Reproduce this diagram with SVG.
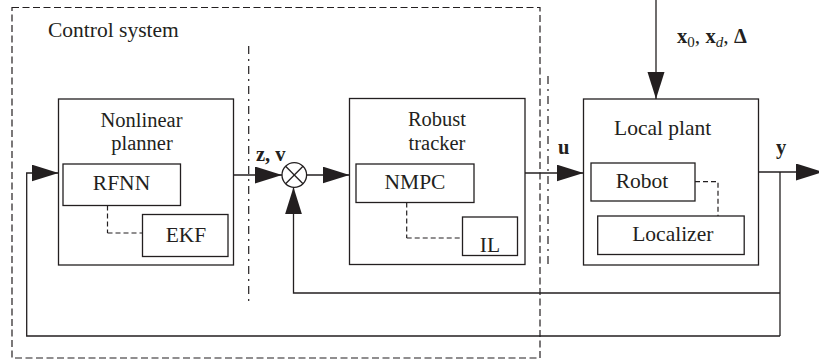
<svg xmlns="http://www.w3.org/2000/svg" width="819" height="362" viewBox="0 0 819 362">
<style>
  .box{fill:none;stroke:#231f20;stroke-width:1.3}
  .frame{fill:none;stroke:#231f20;stroke-width:1.2;stroke-dasharray:7 3.5}
  .dd{fill:none;stroke:#231f20;stroke-width:1.2;stroke-dasharray:8 5 2 5}
  .ds{fill:none;stroke:#231f20;stroke-width:1.2;stroke-dasharray:5 3}
  .ln{fill:none;stroke:#231f20;stroke-width:1.3}
  .arr{marker-end:url(#ah)}
  text{font-family:"Liberation Serif","Times New Roman",serif;font-size:21.5px;fill:#231f20}
  .c{text-anchor:middle}
  .two{font-size:20.5px}
  .b{font-weight:bold;font-size:20.5px}
  .sub{font-size:15px;font-weight:normal}
</style>
<defs>
  <marker id="ah" markerUnits="userSpaceOnUse" markerWidth="28" markerHeight="18" refX="27" refY="8.5" orient="auto">
    <path d="M0,0 L27,8.5 L0,17 z" fill="#231f20"/>
  </marker>
</defs>

<g id="control-system">
  <rect class="frame" x="12" y="7.5" width="528" height="350.5"/>
  <text x="48" y="37">Control system</text>
  <line class="dd" x1="248.7" y1="46" x2="248.7" y2="303"/>
  <line class="dd" x1="548" y1="76" x2="548" y2="267"/>
</g>

<g id="nonlinear-planner">
  <rect class="box" x="58.5" y="99" width="175" height="166"/>
  <text class="c two" x="141.5" y="126.5">Nonlinear</text>
  <text class="c two" x="142" y="149.5">planner</text>
</g>
<g id="rfnn">
  <rect class="box" x="63" y="164" width="117.5" height="41.5"/>
  <text class="c" x="121.5" y="190">RFNN</text>
</g>
<g id="ekf">
  <rect class="box" x="142.5" y="214.5" width="85.5" height="42"/>
  <text class="c" x="186" y="241.5">EKF</text>
</g>

<g id="sum">
  <circle class="box" cx="294.3" cy="175" r="12.3"/>
  <line class="ln" x1="285.6" y1="166.3" x2="303" y2="183.7"/>
  <line class="ln" x1="303" y1="166.3" x2="285.6" y2="183.7"/>
</g>

<g id="robust-tracker">
  <rect class="box" x="349.5" y="98.5" width="175.5" height="166"/>
  <text class="c two" x="437" y="126">Robust</text>
  <text class="c two" x="437" y="149.5">tracker</text>
</g>
<g id="nmpc">
  <rect class="box" x="356" y="164" width="118" height="38.5"/>
  <text class="c" x="415" y="189.3">NMPC</text>
</g>
<g id="il">
  <rect class="box" x="462.5" y="217" width="55" height="38.5"/>
  <text class="c" x="490" y="251.7">IL</text>
</g>

<g id="local-plant">
  <rect class="box" x="583.5" y="99" width="175" height="166"/>
  <text class="c" x="662.7" y="135">Local plant</text>
</g>
<g id="robot">
  <rect class="box" x="591" y="163" width="104" height="38"/>
  <text class="c" x="642" y="188.3">Robot</text>
</g>
<g id="localizer">
  <rect class="box" x="597.7" y="216" width="146.5" height="38.5"/>
  <text class="c" x="672.8" y="240.7">Localizer</text>
</g>

<g id="connectors">
  <line class="ds" x1="107.5" y1="205.5" x2="107.5" y2="233"/>
  <line class="ds" x1="107.5" y1="233" x2="142.5" y2="233"/>
  <line class="ds" x1="406.7" y1="202.5" x2="406.7" y2="238"/>
  <line class="ds" x1="406.7" y1="238" x2="462.5" y2="238"/>
  <polyline class="ds" points="695,181.7 718,181.7 718,216"/>

  <line class="ln arr" x1="233.5" y1="175" x2="282" y2="175"/>
  <line class="ln arr" x1="306.6" y1="175" x2="349.5" y2="175"/>
  <line class="ln arr" x1="525" y1="173" x2="583.5" y2="173"/>
  <line class="ln arr" x1="656" y1="0" x2="656" y2="99"/>
  <line class="ln arr" x1="758.5" y1="172" x2="823" y2="172"/>
  <line class="ln" x1="780" y1="172" x2="780" y2="336"/>
  <polyline class="ln arr" points="780,293 293.5,293 293.5,187.3"/>
  <polyline class="ln arr" points="780,336 26.7,336 26.7,173 58.5,173"/>

  <text class="b" x="256" y="160.5">z, v</text>
  <text class="b" x="558" y="154">u</text>
  <text class="b" x="776" y="154">y</text>
  <text x="677" y="43"><tspan class="b">x</tspan><tspan class="sub" dy="4">0</tspan><tspan dy="-4">, </tspan><tspan class="b">x</tspan><tspan class="sub" dy="4" font-style="italic">d</tspan><tspan dy="-4">, </tspan><tspan class="b">Δ</tspan></text>
</g>
</svg>
